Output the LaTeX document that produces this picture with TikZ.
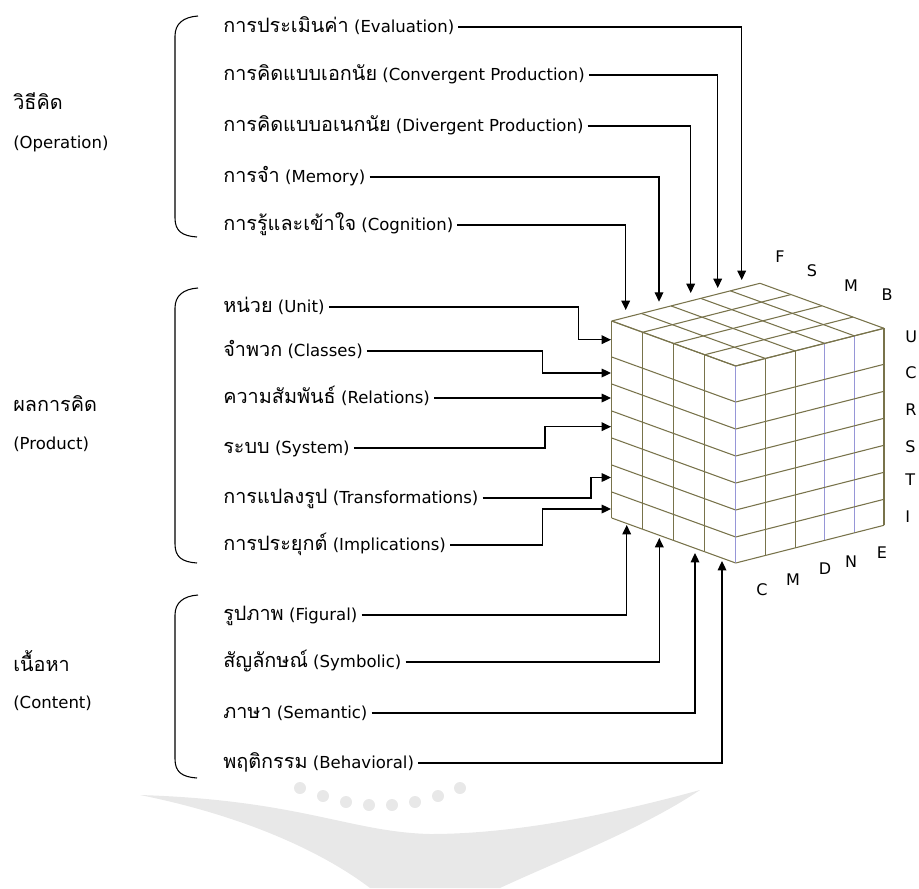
\documentclass[tikz,border=0pt]{standalone}
\usepackage{fontspec}
\setmainfont{DejaVu Sans}
\newfontfamily\thaifont[Script=Thai,Scale=1.2]{Loma}
\usetikzlibrary{arrows.meta}

\definecolor{gridline}{RGB}{120,115,75}
\definecolor{gridblue}{RGB}{150,150,215}
\definecolor{markgray}{RGB}{232,232,232}

\tikzset{
  item/.style={anchor=west, inner xsep=3pt, inner ysep=0pt,
    text height=10pt, text depth=2pt, font=\fontsize{12.4}{14}\selectfont},
  feed/.style={-{Triangle[length=7pt,width=6.5pt]}, line width=0.9pt},
  face/.style={gridline, line width=0.8pt},
  bracket/.style={line width=0.8pt},
  tag/.style={inner sep=0pt, font=\fontsize{12}{14}\selectfont},
}

\begin{document}
\begin{tikzpicture}[x=0.75pt,y=-0.75pt]
\useasboundingbox (0,0) rectangle (919,888);

% Faint watermark at the bottom
\fill[markgray] (140,795) .. controls (300,800) and (350,832) .. (430,834)
  .. controls (520,834) and (620,812) .. (700,790)
  .. controls (640,830) and (560,860) .. (500,888) -- (370,888)
  .. controls (320,850) and (240,815) .. (140,795);
\foreach \x/\y in {300/788,323/796,346/802,369/805,392/805,415/802,438/796,460/788}
{
    \fill[markgray] (\x,\y) circle (6);
}

% Group labels
\node[item] (operation) at (9,104) {\thaifont วิธีคิด};
\node[item] (operationEn) at (9,143) {(Operation)};
\node[item] (product) at (9,406) {\thaifont ผลการคิด};
\node[item] (productEn) at (9,444) {(Product)};
\node[item] (content) at (9,666) {\thaifont เนื้อหา};
\node[item] (contentEn) at (9,703) {(Content)};

% Brackets round each group
\foreach \top/\bot in {16/237, 288/563, 595/778}
{
    \draw[bracket] (198,\top) .. controls (183,\top+1) and (175,\top+8) .. (175,\top+20)
      -- (175,\bot-19) .. controls (175,\bot-6) and (182,\bot-1) .. (197,\bot);
}

% Operations
\node[item] (eva) at (219,27) {{\thaifont การประเมินค่า} (Evaluation)};
\node[item] (con) at (219,75) {{\thaifont การคิดแบบเอกนัย} (Convergent Production)};
\node[item] (div) at (219,126) {{\thaifont การคิดแบบอเนกนัย} (Divergent Production)};
\node[item] (mem) at (219,177) {{\thaifont การจำ} (Memory)};
\node[item] (cog) at (219,225) {{\thaifont การรู้และเข้าใจ} (Cognition)};

% Products
\node[item] (unit) at (219,307) {{\thaifont หน่วย} (Unit)};
\node[item] (cls) at (219,351) {{\thaifont จำพวก} (Classes)};
\node[item] (rel) at (219,398) {{\thaifont ความสัมพันธ์} (Relations)};
\node[item] (sys) at (219,448) {{\thaifont ระบบ} (System)};
\node[item] (tra) at (219,498) {{\thaifont การแปลงรูป} (Transformations)};
\node[item] (imp) at (219,545) {{\thaifont การประยุกต์} (Implications)};

% Contents
\node[item] (fig) at (219,615) {{\thaifont รูปภาพ} (Figural)};
\node[item] (sym) at (219,662) {{\thaifont สัญลักษณ์} (Symbolic)};
\node[item] (sem) at (219,713) {{\thaifont ภาษา} (Semantic)};
\node[item] (beh) at (219,763) {{\thaifont พฤติกรรม} (Behavioral)};

% Cube: left face
\foreach \i in {0,...,4}
{
    \draw[face] ({735.7-31*\i},{366-11.25*\i}) -- ++(0,197);
}
\foreach \r in {0,36,63,90,117,144,171,197}
{
    \draw[face] (611.7,321+\r) -- (735.7,366+\r);
}

% Cube: right face
\foreach \j in {1,2,5}
{
    \draw[face] ({735.7+29.66*\j},{366-7.54*\j}) -- ++(0,197);
}
\foreach \j in {0,3,4}
{
    \draw[gridblue, line width=0.9pt] ({735.7+29.66*\j},{366-7.54*\j}) -- ++(0,197);
}
\foreach \r in {0,36,63,90,117,144,171,197}
{
    \draw[face] (735.7,366+\r) -- (884,328.3+\r);
}

% Cube: top face
\foreach \j in {0,...,5}
{
    \draw[face] ({735.7+29.66*\j},{366-7.54*\j}) -- ++(-124,-45);
}
\foreach \i in {0,...,4}
{
    \draw[face] ({735.7-31*\i},{366-11.25*\i}) -- ++(148.3,-37.7);
}

% Letters round the cube
\node[tag] (lF) at (780,257) {F};
\node[tag] (lS) at (812,271) {S};
\node[tag] (lM) at (851,286) {M};
\node[tag] (lB) at (887,295) {B};
\foreach \t/\y in {U/337,C/373,R/410,S/447,T/480,I/517}
{
    \node[tag, anchor=west] (r\t) at (905,\y) {\t};
}
\node[tag] (bC) at (762,590) {C};
\node[tag] (bM) at (793,580) {M};
\node[tag] (bD) at (825,569) {D};
\node[tag] (bN) at (851,562) {N};
\node[tag] (bE) at (882,553) {E};

% Arrow ends on the cube
\coordinate (tCog) at (625.7,310);
\coordinate (tMem) at (659,301.7);
\coordinate (tDiv) at (690.7,293);
\coordinate (tCon) at (717.7,288);
\coordinate (tEva) at (741.7,280);
\coordinate (kUnit) at (578.3,339.7);
\coordinate (tUnit) at (611,339.7);
\coordinate (kCls) at (542.3,373);
\coordinate (tCls) at (611,373);
\coordinate (tRel) at (611,398);
\coordinate (kSys) at (545,426.7);
\coordinate (tSys) at (611,426.7);
\coordinate (kTra) at (591,477.5);
\coordinate (tTra) at (611,477.5);
\coordinate (kImp) at (542.3,509);
\coordinate (tImp) at (611,509);
\coordinate (tFig) at (626.7,525);
\coordinate (tSym) at (659.3,538);
\coordinate (tSem) at (695,553);
\coordinate (tBeh) at (722,561);

% Operations come down on the top
\draw[feed] (eva.east) -| (tEva);
\draw[feed] (con.east) -| (tCon);
\draw[feed] (div.east) -| (tDiv);
\draw[feed] (mem.east) -| (tMem);
\draw[feed] (cog.east) -| (tCog);

% Products come in from the left
\draw[feed] (unit.east) -| (kUnit) -- (tUnit);
\draw[feed] (cls.east) -| (kCls) -- (tCls);
\draw[feed] (rel.east) -- (tRel);
\draw[feed] (sys.east) -| (kSys) -- (tSys);
\draw[feed] (tra.east) -| (kTra) -- (tTra);
\draw[feed] (imp.east) -| (kImp) -- (tImp);

% Contents come up from below
\draw[feed] (fig.east) -| (tFig);
\draw[feed] (sym.east) -| (tSym);
\draw[feed] (sem.east) -| (tSem);
\draw[feed] (beh.east) -| (tBeh);

\end{tikzpicture}
\end{document}
